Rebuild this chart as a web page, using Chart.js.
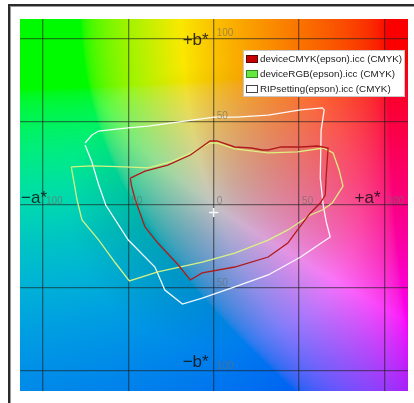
<!DOCTYPE html>
<html>
<head>
<meta charset="utf-8">
<script src="https://cdn.jsdelivr.net/npm/chart.js@4.4.1/dist/chart.umd.min.js"></script>
<style>
  html, body { margin: 0; padding: 0; background: #ffffff; }
  canvas { display: block; }
</style>
</head>
<body>
<canvas id="c" width="414" height="403"></canvas>
<script>
// ---- data (a*, b*) ----
const seriesLabels = ['deviceCMYK(epson).icc (CMYK)', 'deviceRGB(epson).icc (CMYK)', 'RIPsetting(epson).icc (CMYK)'];

const cmykA = [-48.8, -40.2, -26.9, -13.7, -2.1, 1.9, 12.3, 22.1, 28.4, 31.9, 39.4, 50.9, 60.7, 67.0, 66.5, 65.9, 65.3, 62.4, 56.6, 49.1, 43.4, 31.9, 12.3, -6.7, -13.7, -21.2, -32.7, -40.2, -45.9, -48.2, -48.8];
const cmykB = [15.9, 20.1, 23.7, 29.8, 38.2, 38.2, 34.6, 34.0, 32.8, 32.8, 34.6, 34.6, 35.2, 34.0, 26.8, 17.7, 5.7, 0.9, -5.1, -15.3, -23.2, -31.6, -37.6, -41.2, -45.4, -35.8, -23.2, -13.5, 2.7, 11.7, 15.9];

const rgbA = [-83.4, -71.3, -51.7, -38.4, -25.1, -13.7, -2.1, 1.9, 12.3, 31.9, 49.1, 64.1, 69.9, 73.4, 75.7, 69.4, 63.6, 56.6, 43.4, 31.9, 12.3, -6.7, -32.7, -49.4, -57.5, -67.3, -77.1, -80.0, -81.7, -83.4];
const rgbB = [22.6, 23.2, 22.6, 22.0, 25.6, 31.0, 37.0, 37.0, 33.4, 31.0, 31.6, 34.0, 31.0, 20.8, 11.1, 0.9, -3.3, -6.3, -15.3, -21.4, -29.2, -34.6, -40.6, -46.0, -35.2, -21.4, -9.3, 2.7, 12.9, 22.6];

const ripA = [-75.3, -71.3, -67.3, -51.7, -38.4, -21.2, 0.2, 13.4, 31.9, 50.9, 63.6, 64.7, 62.9, 62.4, 64.1, 65.9, 68.2, 59.5, 50.9, 31.9, 12.3, -6.7, -18.3, -28.6, -34.4, -50.0, -63.2, -67.3, -71.3, -75.3];
const ripB = [37.0, 41.8, 44.2, 46.0, 47.2, 49.6, 52.6, 52.6, 53.8, 56.9, 58.1, 56.9, 44.8, 15.9, -0.3, -10.5, -19.6, -25.6, -31.6, -42.4, -49.6, -56.3, -59.9, -51.5, -37.6, -21.4, -0.3, 11.7, 25.6, 35.8];

const whitePointA = [0];
const whitePointB = [-4.8];

const gridValues = [-100, -50, 0, 50, 100];
const xTickLabels = ['100', '50', '0', '50', '100'];
const yTickLabels = ['100', '50', '', '50', '100'];
const axisNames = { posB: '+b*', negB: '\u2212b*', negA: '\u2212a*', posA: '+a*' };

// ---- helpers ----
function pts(xs, ys) { return xs.map((v, i) => ({ x: v, y: ys[i] })); }

function gam(v) { return v <= 0.0031308 ? 12.92 * v : 1.055 * Math.pow(v, 1 / 2.4) - 0.055; }
function labColor(L, a, b) {
  const fy = (L + 16) / 116, fx = fy + a / 500, fz = fy - b / 200;
  const d = 6 / 29;
  const finv = t => t > d ? t * t * t : 3 * d * d * (t - 4 / 29);
  const X = 0.95047 * finv(fx), Y = finv(fy), Z = 1.08883 * finv(fz);
  let r = 3.2406 * X - 1.5372 * Y - 0.4986 * Z;
  let g = -0.9689 * X + 1.8758 * Y + 0.0415 * Z;
  let bl = 0.0557 * X - 0.2040 * Y + 1.0570 * Z;
  r = Math.max(0, r); g = Math.max(0, g); bl = Math.max(0, bl);
  const m = Math.max(r, g, bl, 1e-6);
  r /= m; g /= m; bl /= m;
  // slightly warmer yellows
  g *= 1 - 0.16 * Math.max(0, r - bl) * Math.max(0, g - bl);
  const C = Math.sqrt(a * a + b * b);
  let k = 0.76 + 0.22 * Math.min(1, C / 85);
  k *= 1 - 0.22 * Math.max(0, Math.min(g, bl) - r);
  return [gam(r) * 255 * k, gam(g) * 255 * k, gam(bl) * 255 * k];
}

let bgCache = null;
const backgroundPlugin = {
  id: 'abBackground',
  beforeDraw(chart) {
    const ctx = chart.ctx;
    const ca = chart.chartArea;
    ctx.save();
    ctx.fillStyle = '#ffffff';
    ctx.fillRect(0, 0, chart.width, chart.height);
    if (!bgCache) {
      const w = Math.round(ca.right - ca.left), h = Math.round(ca.bottom - ca.top);
      const off = document.createElement('canvas');
      off.width = w; off.height = h;
      const octx = off.getContext('2d');
      const img = octx.createImageData(w, h);
      const xs = chart.scales.x, ys = chart.scales.y;
      for (let py = 0; py < h; py++) {
        const bv = ys.getValueForPixel(ca.top + py + 0.5);
        for (let px = 0; px < w; px++) {
          const av = xs.getValueForPixel(ca.left + px + 0.5);
          const c = labColor(72, av, bv);
          const k = (py * w + px) * 4;
          img.data[k] = c[0]; img.data[k + 1] = c[1]; img.data[k + 2] = c[2]; img.data[k + 3] = 255;
        }
      }
      octx.putImageData(img, 0, 0);
      bgCache = off;
    }
    ctx.drawImage(bgCache, ca.left, ca.top);
    // outer frame
    ctx.fillStyle = '#2b2b2b';
    ctx.fillRect(8, 4, chart.width - 8, 2);
    ctx.fillRect(8, 4, 2, chart.height - 4);
    ctx.fillStyle = '#9a9a9a';
    ctx.fillRect(10, 6, chart.width - 10, 1);
    ctx.fillRect(10, 6, 1, chart.height - 6);
    ctx.restore();
  }
};

const labelsPlugin = {
  id: 'abLabels',
  afterDatasetsDraw(chart) {
    const ctx = chart.ctx;
    const xs = chart.scales.x, ys = chart.scales.y;
    const ca = chart.chartArea;
    ctx.save();
    // small tick labels
    ctx.font = '10px "Liberation Sans", Arial, sans-serif';
    ctx.fillStyle = 'rgba(110,110,100,0.65)';
    ctx.textAlign = 'left';
    ctx.textBaseline = 'alphabetic';
    const x0 = xs.getPixelForValue(0), y0 = ys.getPixelForValue(0);
    gridValues.forEach((v, i) => {
      if (xTickLabels[i]) ctx.fillText(xTickLabels[i], xs.getPixelForValue(v) + 3, y0 - 1);
      if (yTickLabels[i]) ctx.fillText(yTickLabels[i], x0 + 3, ys.getPixelForValue(v) - 2);
    });
    // axis names
    ctx.font = '17px "Liberation Sans", Arial, sans-serif';
    ctx.fillStyle = 'rgba(15,15,15,0.85)';
    ctx.textAlign = 'right';
    ctx.fillText(axisNames.posB, x0 - 5, ys.getPixelForValue(100) + 7);
    ctx.fillText(axisNames.negB, x0 - 5, ys.getPixelForValue(-100) - 4);
    ctx.fillText(axisNames.posA, xs.getPixelForValue(100) - 4, y0 - 2);
    ctx.textAlign = 'left';
    ctx.fillText(axisNames.negA, ca.left + 1, y0 - 2);

    // legend
    const lx = 243, ly = 50, lw = 162, lh = 47;
    ctx.fillStyle = '#ffffff';
    ctx.fillRect(lx, ly, lw, lh);
    ctx.strokeStyle = '#c8c8c8';
    ctx.lineWidth = 1;
    ctx.strokeRect(lx + 0.5, ly + 0.5, lw - 1, lh - 1);
    ctx.font = '9.8px "Liberation Sans", Arial, sans-serif';
    ctx.textAlign = 'left';
    ctx.textBaseline = 'middle';
    chart.data.datasets.slice(0, 3).forEach((ds, i) => {
      const cy = 59 + i * 15;
      ctx.fillStyle = ds.backgroundColor;
      ctx.fillRect(246, cy - 4, 12, 8);
      ctx.strokeStyle = ds.legendBorder;
      ctx.strokeRect(246.5, cy - 3.5, 11, 7);
      ctx.fillStyle = '#1a1a1a';
      ctx.fillText(ds.label, 260, cy + 0.5);
    });
    ctx.restore();
  }
};

new Chart(document.getElementById('c'), {
  type: 'scatter',
  data: {
    datasets: [
      { label: seriesLabels[0], data: pts(cmykA, cmykB), showLine: true, borderColor: '#b01a1a', backgroundColor: '#c40000', legendBorder: '#5a0000', borderWidth: 1.3, pointRadius: 0, tension: 0, fill: false },
      { label: seriesLabels[1], data: pts(rgbA, rgbB), showLine: true, borderColor: 'rgba(220,245,130,0.95)', backgroundColor: '#66e640', legendBorder: '#2f8a20', borderWidth: 1.3, pointRadius: 0, tension: 0, fill: false },
      { label: seriesLabels[2], data: pts(ripA, ripB), showLine: true, borderColor: 'rgba(255,255,255,0.95)', backgroundColor: '#ffffff', legendBorder: '#444444', borderWidth: 1.3, pointRadius: 0, tension: 0, fill: false },
      { label: 'white point', data: pts(whitePointA, whitePointB), showLine: false, pointStyle: 'cross', pointRadius: 4.5, borderColor: 'rgba(255,255,255,0.95)', backgroundColor: '#ffffff', borderWidth: 1.6 }
    ]
  },
  options: {
    responsive: false,
    animation: false,
    devicePixelRatio: 1,
    layout: { padding: { left: 20, top: 19, right: 0, bottom: 12 } },
    plugins: { legend: { display: false }, tooltip: { enabled: false } },
    scales: {
      x: {
        type: 'linear', min: -113.4, max: 113.7,
        afterBuildTicks: s => { s.ticks = gridValues.map(v => ({ value: v })); },
        ticks: { display: false },
        grid: { color: 'rgba(30,30,30,0.55)', lineWidth: 1.3, drawTicks: false },
        border: { display: false }
      },
      y: {
        type: 'linear', min: -112.2, max: 111.6,
        afterBuildTicks: s => { s.ticks = gridValues.map(v => ({ value: v })); },
        ticks: { display: false },
        grid: { color: 'rgba(30,30,30,0.55)', lineWidth: 1.3, drawTicks: false },
        border: { display: false }
      }
    }
  },
  plugins: [backgroundPlugin, labelsPlugin]
});
</script>
</body>
</html>
